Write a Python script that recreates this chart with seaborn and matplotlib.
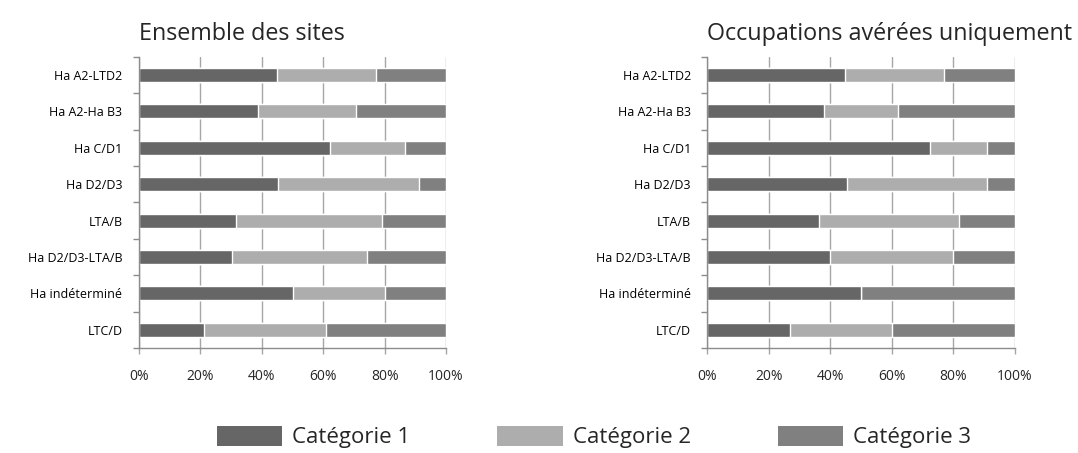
import numpy as np
import pandas as pd
import matplotlib
matplotlib.use("Agg")
import matplotlib.pyplot as plt
from matplotlib.patches import Patch
from matplotlib.ticker import FixedLocator
import seaborn as sns

periods = ["Ha A2-LTD2", "Ha A2-Ha B3", "Ha C/D1", "Ha D2/D3", "LTA/B",
           "Ha D2/D3-LTA/B", "Ha indéterminé", "LTC/D"]
series_names = ["Catégorie 1", "Catégorie 2", "Catégorie 3"]
titles = ["Ensemble des sites", "Occupations avérées uniquement"]

# Panel 1 : Ensemble des sites (percent)
all_cat1 = [45.0, 38.8, 62.2, 45.4, 31.6, 30.3, 50.0, 21.2]
all_cat2 = [32.2, 31.8, 24.4, 45.7, 47.4, 43.8, 30.0, 39.7]
all_cat3 = [22.8, 29.4, 13.4, 8.9, 21.0, 25.9, 20.0, 39.1]

# Panel 2 : Occupations avérées uniquement (percent)
occ_cat1 = [44.9, 37.9, 72.5, 45.4, 36.3, 40.0, 50.0, 26.7]
occ_cat2 = [32.2, 24.2, 18.5, 45.6, 45.6, 40.0, 0.0, 33.3]
occ_cat3 = [22.9, 37.9, 9.0, 9.0, 18.1, 20.0, 50.0, 40.0]

x_ticks = [0, 20, 40, 60, 80, 100]
x_ticklabels = ["0%", "20%", "40%", "60%", "80%", "100%"]

colors = ["#666666", "#adadad", "#808080"]

sns.set_style("white")
plt.rcParams["font.family"] = ["Open Sans", "DejaVu Sans"]

fig = plt.figure(figsize=(10.78, 4.53), dpi=100)
ax_pos = [[0.129, 0.2318, 0.2848, 0.643], [0.6563, 0.2318, 0.2850, 0.643]]

panels = [(all_cat1, all_cat2, all_cat3), (occ_cat1, occ_cat2, occ_cat3)]

for pos, (c1, c2, c3), title in zip(ax_pos, panels, titles):
    ax = fig.add_axes(pos)
    df = pd.DataFrame({"period": periods, "c1": c1, "c2": c2, "c3": c3})
    df["cum2"] = df["c1"] + df["c2"]
    df["cum3"] = df["cum2"] + df["c3"]
    for col, color in [("cum3", colors[2]), ("cum2", colors[1]), ("c1", colors[0])]:
        sns.barplot(data=df, x=col, y="period", orient="h", color=color,
                    saturation=1, width=0.385, ax=ax, errorbar=None)
    ax.set_xlim(0, 100)
    ax.set_ylim(7.5, -0.5)
    ax.set_xlabel("")
    ax.set_ylabel("")
    ax.set_xticks(x_ticks)
    ax.set_xticklabels(x_ticklabels)
    ax.set_axisbelow(True)
    ax.grid(axis="x", color="#a6a6a6", linewidth=1.0)
    ax.grid(axis="y", visible=False)
    for s in ["top", "right"]:
        ax.spines[s].set_visible(False)
    for s in ["left", "bottom"]:
        ax.spines[s].set_color("#8c8c8c")
        ax.spines[s].set_linewidth(1.0)
    ax.yaxis.set_minor_locator(FixedLocator(np.arange(-0.5, 8.0, 1.0)))
    ax.tick_params(axis="y", which="major", length=0, pad=12, labelsize=9,
                   labelcolor="#000000")
    ax.tick_params(axis="y", which="minor", length=4, width=1, color="#8c8c8c",
                   left=True)
    ax.tick_params(axis="x", which="major", length=4, width=1, color="#a6a6a6",
                   pad=11, labelsize=10, bottom=True)
    ax.set_title(title, loc="left", fontsize=16.8, pad=12)

handles = [Patch(facecolor=c, edgecolor="none") for c in colors]
fig.legend(handles, series_names, loc="center", bbox_to_anchor=(0.551, 0.035),
           ncol=3, frameon=False, fontsize=16, handlelength=2.95, handleheight=1.0,
           handletextpad=0.45, columnspacing=3.9)

fig.savefig("out.png", dpi=100)
